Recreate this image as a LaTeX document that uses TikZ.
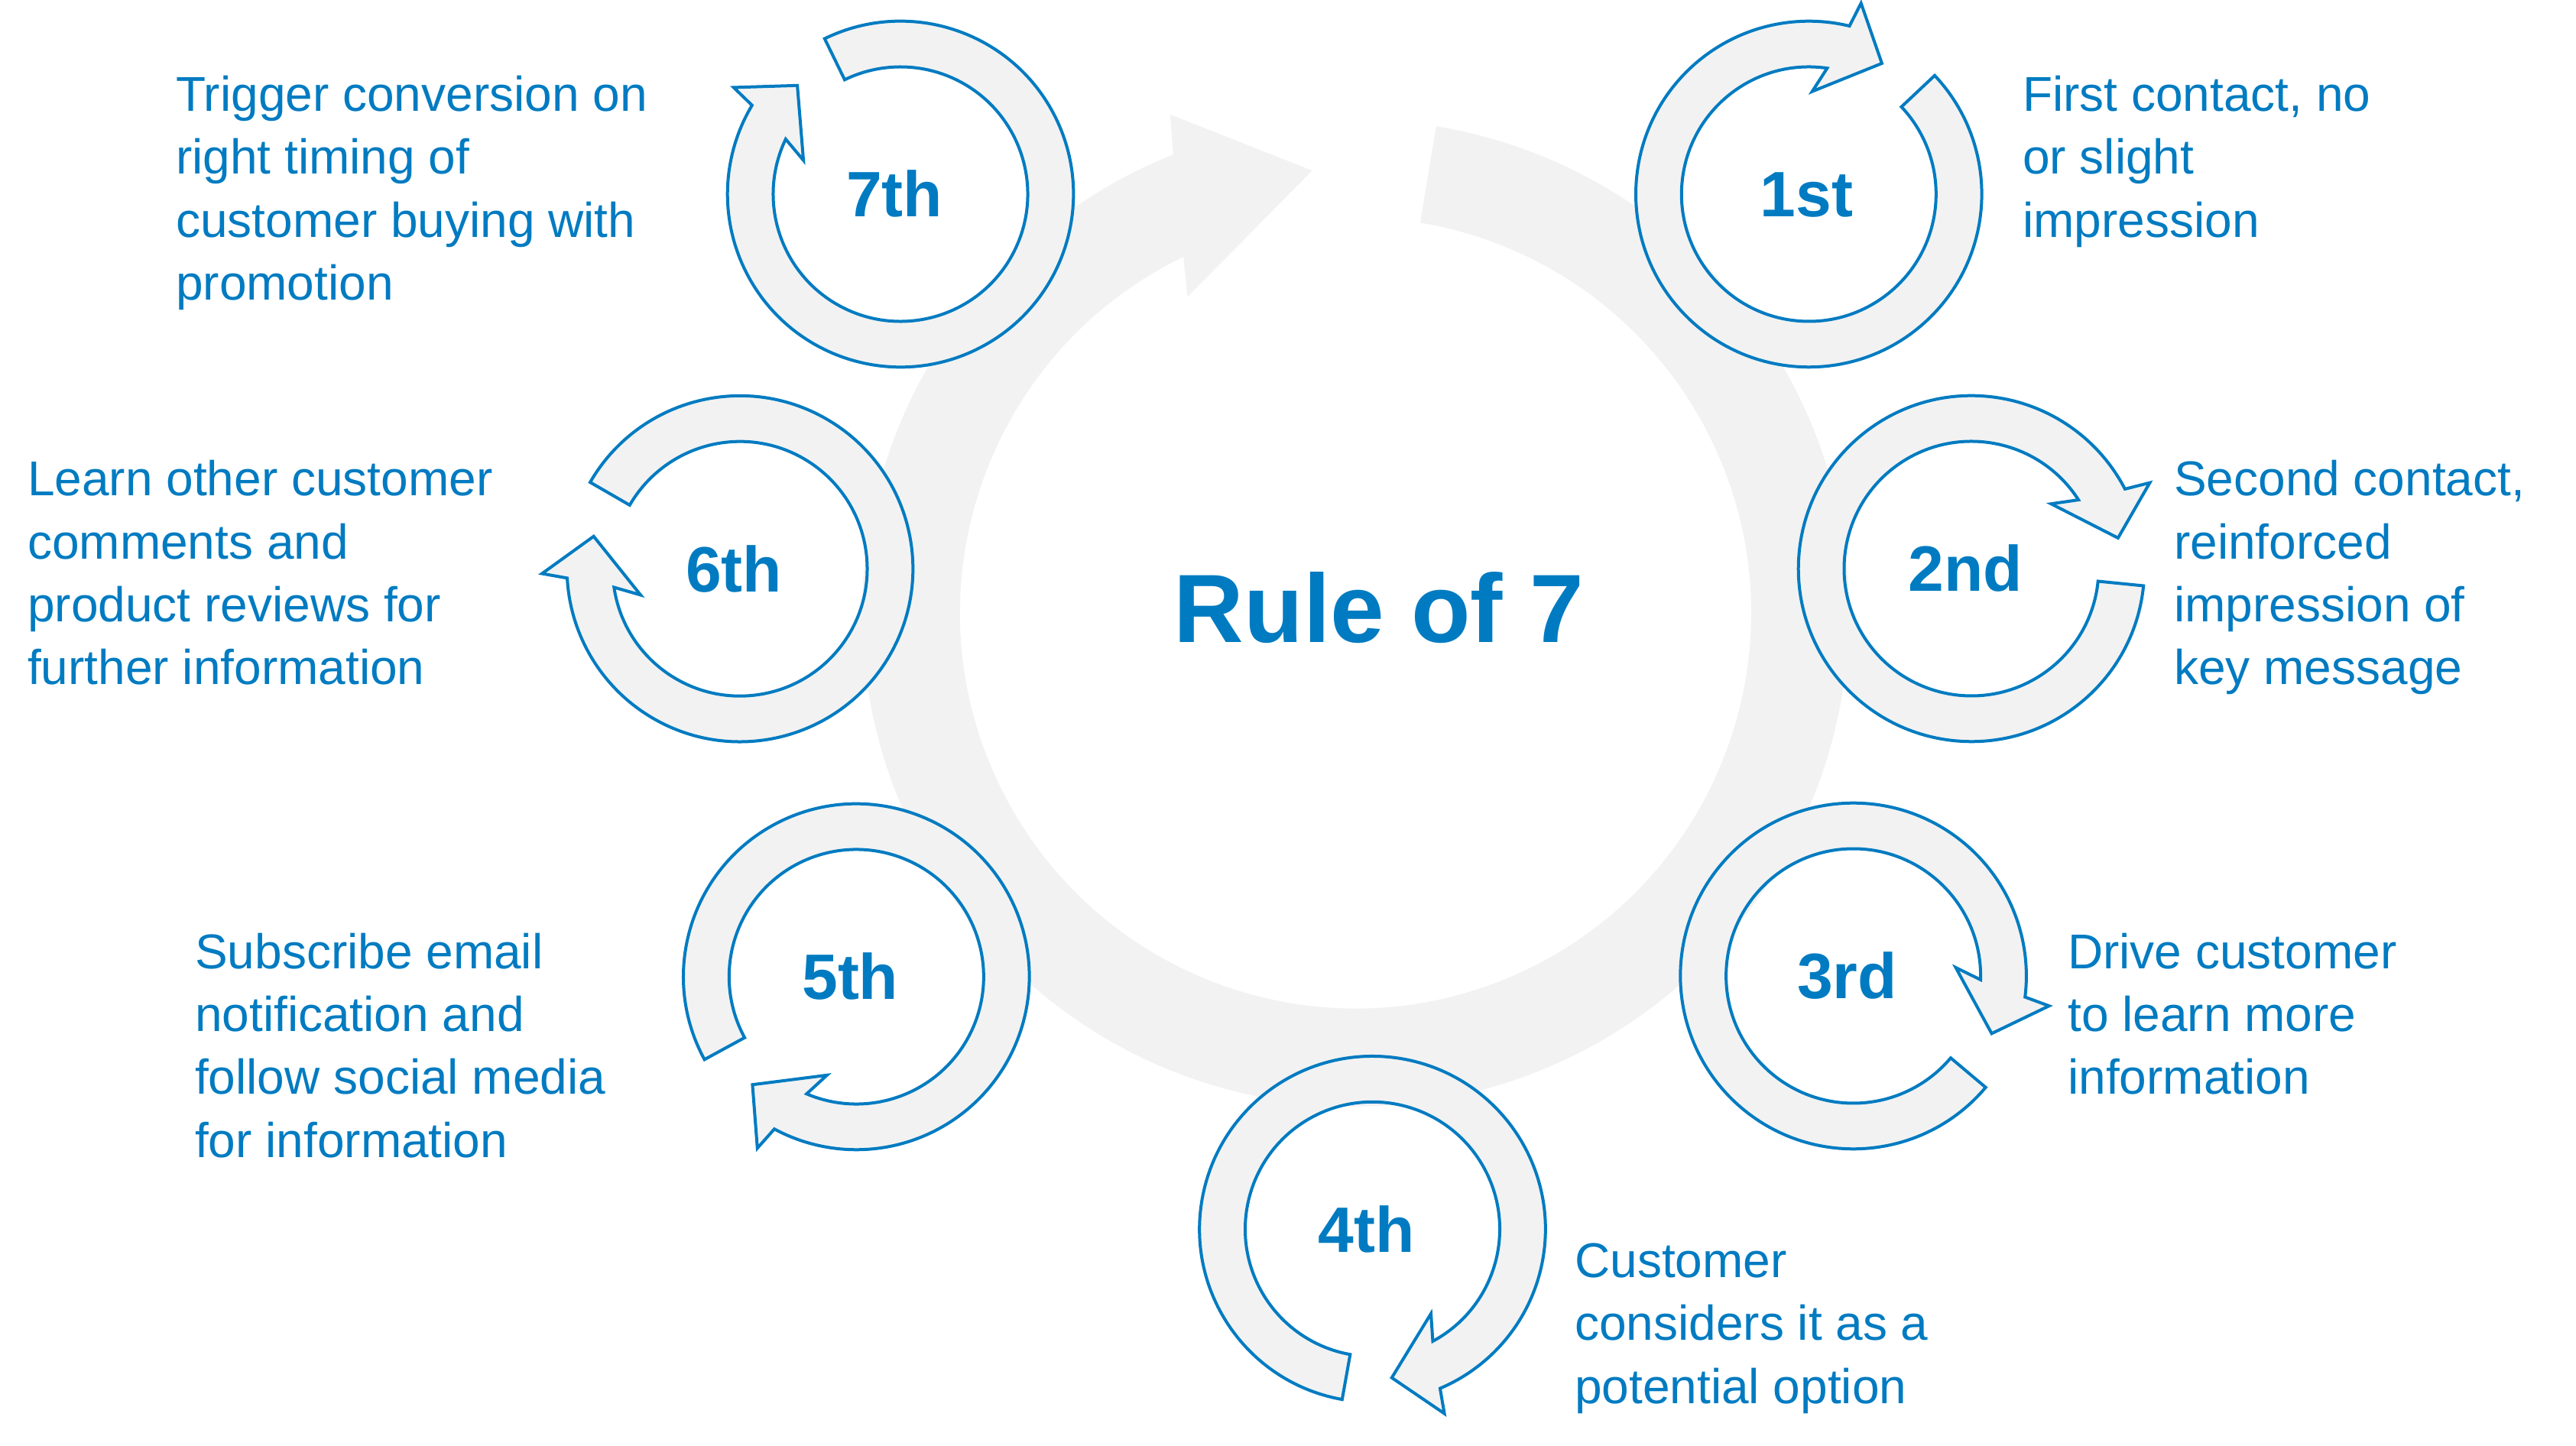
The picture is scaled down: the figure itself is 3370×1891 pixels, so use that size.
\documentclass[tikz,border=0pt]{standalone}
\usepackage{fontspec}
\setmainfont{Liberation Sans}
\definecolor{rblue}{RGB}{0,123,193}
\definecolor{rgray}{RGB}{242,242,242}
\tikzset{
  cycarrow/.style={draw=rblue, line width=4pt, fill=rgray, line join=miter},
  numlbl/.style={anchor=base, inner sep=0pt, text=rblue, font=\fontsize{84}{100}\selectfont\bfseries},
  desc/.style={anchor=base west, inner sep=0pt, text=rblue, font=\fontsize{64}{82.2}\selectfont},
  titlelbl/.style={anchor=base, inner sep=0pt, text=rblue, font=\fontsize{127}{150}\selectfont\bfseries}
}
\newcommand\cycring[2]{%
  \draw[cycarrow, shift={(#1)}] ({#2}:226.3)
    arc[start angle={#2}, end angle={#2+33.1-360}, radius=226.3]
    -- ({#2+31.4}:259) -- ({#2+17.5}:196) -- ({#2+44.8}:134.4) -- ({#2+38.4}:166.5)
    arc[start angle={#2+38.4-360}, end angle={#2}, radius=166.5] -- cycle;}
\newcommand\desctext[1]{\begin{tabular}[t]{@{}l@{}}#1\end{tabular}}
\begin{document}
\begin{tikzpicture}[x=1pt,y=1pt]
\useasboundingbox (0,0) rectangle (3370,1891);
% centres
\coordinate (bc) at (1773.4,1089);
\coordinate (c1) at (2366.3,1637);
\coordinate (c2) at (2579,1147);
\coordinate (c3) at (2424.6,614);
\coordinate (c4) at (1795.5,282.7);
\coordinate (c5) at (1120.3,613);
\coordinate (c6) at (968,1146.8);
\coordinate (c7) at (1178,1637);
% big gray cycle arrow
\fill[rgray, shift={(bc)}] (80.6:645.5)
  arc[start angle=80.6, end angle=-248.3, radius=645.5]
  -- (110.4:695.8) -- (95.6:581.6) -- (118:468.4) -- (115.8:517.5)
  arc[start angle=-244.2, end angle=80.6, radius=517.5] -- cycle;
% small cycle arrows
\cycring{c1}{43.3}
\cycring{c2}{-5.7}
\cycring{c3}{-40.1}
\cycring{c4}{-100.1}
\cycring{c5}{208.6}
\cycring{c6}{150}
\cycring{c7}{116}
% labels
\node[titlelbl] (title) at (1804,1050) {Rule of 7};
\node[numlbl] (n1) at ([xshift=-3,yshift=-30]c1) {1st};
\node[numlbl] (n2) at ([xshift=-8,yshift=-30]c2) {2nd};
\node[numlbl] (n3) at ([xshift=-8,yshift=-30]c3) {3rd};
\node[numlbl] (n4) at ([xshift=-8,yshift=-30]c4) {4th};
\node[numlbl] (n5) at ([xshift=-8,yshift=-30]c5) {5th};
\node[numlbl] (n6) at ([xshift=-8,yshift=-30]c6) {6th};
\node[numlbl] (n7) at ([xshift=-8,yshift=-30]c7) {7th};
% descriptions
\node[desc] (d1) at (2646,1745.3) {\desctext{First contact, no\\or slight\\impression}};
\node[desc] (d2) at (2844,1242) {\desctext{Second contact,\\reinforced\\impression of\\key message}};
\node[desc] (d3) at (2705,623.5) {\desctext{Drive customer\\to learn more\\information}};
\node[desc] (d4) at (2060,219.3) {\desctext{Customer\\considers it as a\\potential option}};
\node[desc] (d5) at (255,623.5) {\desctext{Subscribe email\\notification and\\follow social media\\for information}};
\node[desc] (d6) at (36,1242) {\desctext{Learn other customer\\comments and\\product reviews for\\further information}};
\node[desc] (d7) at (230,1745.3) {\desctext{Trigger conversion on\\right timing of\\customer buying with\\promotion}};
\end{tikzpicture}
\end{document}
